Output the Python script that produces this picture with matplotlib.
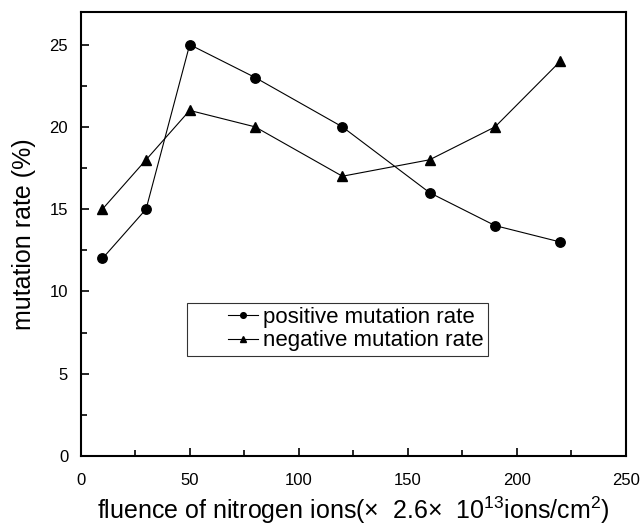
import matplotlib
matplotlib.use("Agg")
import matplotlib.pyplot as plt
from matplotlib.ticker import MultipleLocator
from matplotlib.legend_handler import HandlerLine2D

plt.rcParams['font.family'] = ['Liberation Sans', 'DejaVu Sans']
plt.rcParams['mathtext.fontset'] = 'custom'
plt.rcParams['mathtext.rm'] = 'Liberation Sans'

fluence = [10, 30, 50, 80, 120, 160, 190, 220]
positive = [12, 15, 25, 23, 20, 16, 14, 13]
negative = [15, 18, 21, 20, 17, 18, 20, 24]


class ShiftedHandler(HandlerLine2D):
    def create_artists(self, legend, orig_handle, xdescent, ydescent,
                       width, height, fontsize, trans):
        off = width * 0.55
        return super().create_artists(legend, orig_handle, xdescent - off,
                                      ydescent, width - off, height,
                                      fontsize, trans)


fig = plt.figure(figsize=(6.4, 5.32), dpi=100)
ax = fig.add_axes([0.126, 0.143, 0.852, 0.835])

l1, = ax.plot(fluence, positive, color='black', lw=0.8, marker='o', ms=6.8,
              label='positive mutation rate')
l2, = ax.plot(fluence, negative, color='black', lw=0.8, marker='^', ms=7.8,
              label='negative mutation rate')

ax.set_xlim(0, 250)
ax.set_ylim(0, 27)
ax.xaxis.set_major_locator(MultipleLocator(50))
ax.xaxis.set_minor_locator(MultipleLocator(25))
ax.yaxis.set_major_locator(MultipleLocator(5))
ax.yaxis.set_minor_locator(MultipleLocator(2.5))
ax.tick_params(which='both', direction='in', top=False, right=False, labelsize=12, width=1.2)
ax.tick_params(which='major', length=6)
ax.tick_params(axis='x', which='major', pad=12)
ax.tick_params(axis='y', which='major', pad=9)
ax.tick_params(which='minor', length=4)
for s in ax.spines.values():
    s.set_linewidth(1.5)

ax.set_xlabel(r'fluence of nitrogen ions($\times$  2.6$\times$  10$^{13}$ions/cm$^{2}$)', fontsize=18, labelpad=5)
ax.set_ylabel('mutation rate (%)', fontsize=18, labelpad=10)

leg = ax.legend(handles=[l1, l2], loc='upper left', bbox_to_anchor=(0.1945, 0.345),
                borderaxespad=0, fontsize=16,
                frameon=True, fancybox=False, edgecolor='black', handlelength=3.0,
                handletextpad=0.25, markerscale=0.6, borderpad=0.2, labelspacing=0.1,
                handler_map={l1: ShiftedHandler(), l2: ShiftedHandler()})
leg.get_frame().set_linewidth(0.8)

fig.savefig('out.png', dpi=100)
